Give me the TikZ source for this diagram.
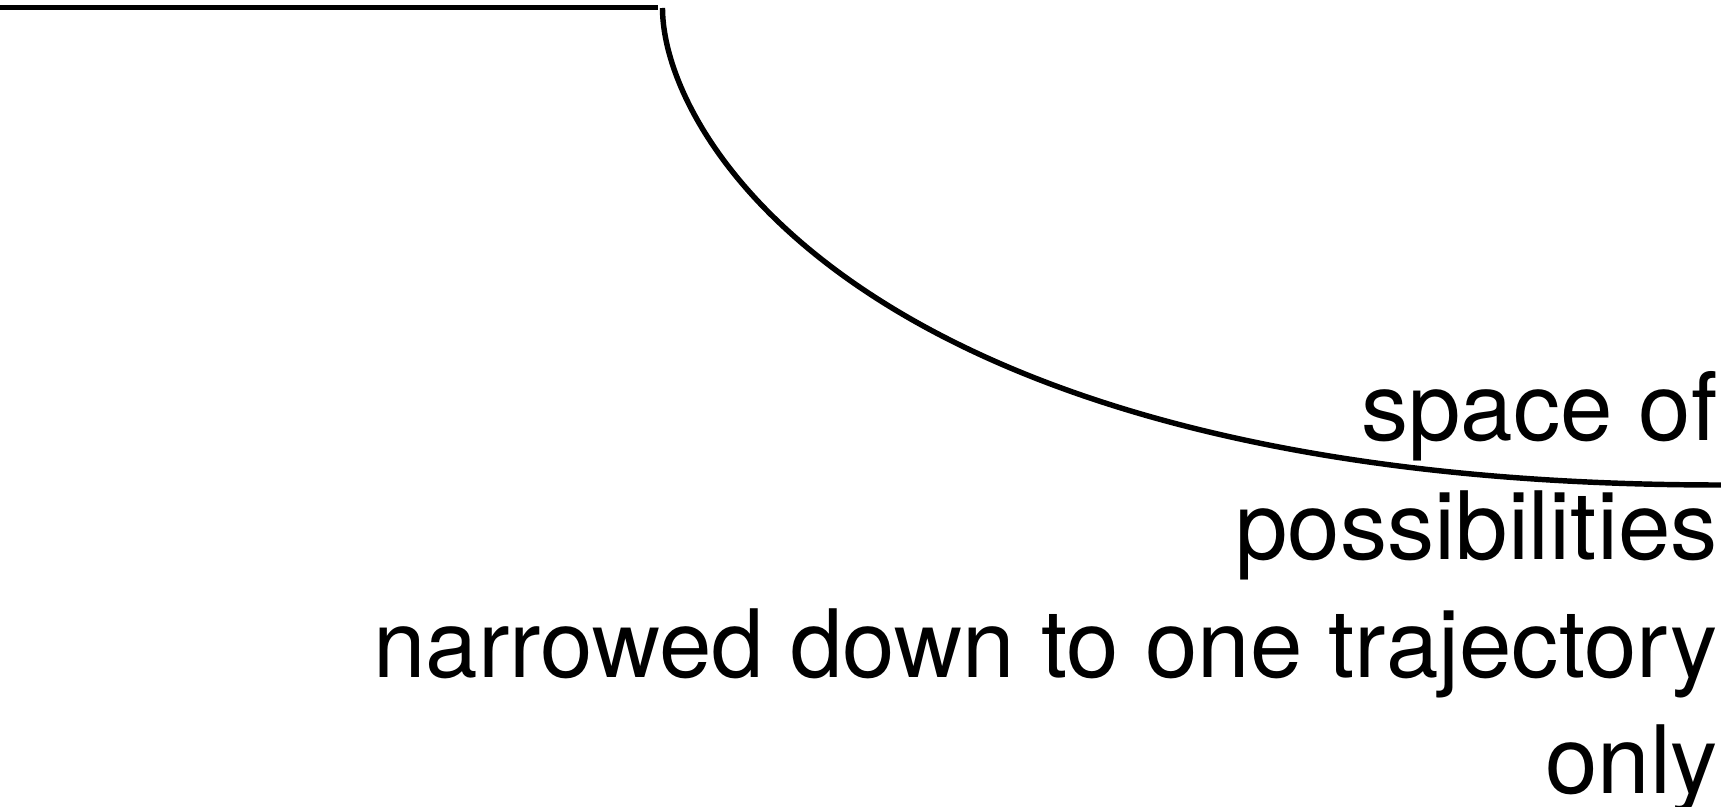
\documentclass[tikz,border=0pt]{standalone}
\usepackage{fontspec}
\setmainfont{TeX Gyre Heros}
\usepackage{tikz}
\usetikzlibrary{positioning}

\begin{document}
\begin{tikzpicture}[
  x=0.02cm, y=-0.02cm,
  rule/.style={draw=black, line width=3.1pt},
  caption/.style={font=\fontsize{53.7}{64}\selectfont, inner sep=0pt, anchor=base east}
]
\useasboundingbox (0,0) rectangle (1721,807);

% ledge and the drop into the narrowing curve
\coordinate (start) at (0,7.5);
\coordinate (ledge) at (658,7.5);
\coordinate (drop)  at (662.5,8);
\coordinate (floor) at (1721,485);

\draw[rule] (start) -- (ledge);
\draw[rule] (drop) .. controls (662.5,140) and (871,485) .. (floor);

\node[caption] (space) at (1718,440) {space of};
\node[caption] (poss)  at (1718,559) {possibilities};
\node[caption] (narrow) at (1718,677) {narrowed down to one trajectory};
\node[caption] (only)  at (1718,793) {only};
\end{tikzpicture}
\end{document}
